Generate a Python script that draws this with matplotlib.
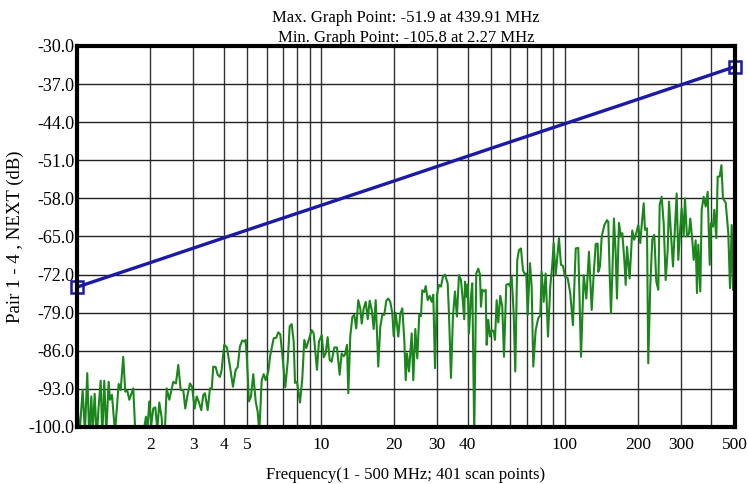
import matplotlib
matplotlib.use('Agg')
import matplotlib.pyplot as plt
from matplotlib.ticker import FixedLocator

plt.rcParams['font.family'] = ['Liberation Serif', 'DejaVu Serif']

freq = [
    1.000, 1.022, 1.055, 1.078, 1.102, 1.123, 1.145, 1.160, 1.182, 1.205,
    1.227, 1.251, 1.270, 1.294, 1.319, 1.349, 1.366, 1.392, 1.432, 1.483,
    1.511, 1.548, 1.578, 1.608, 1.639, 1.702, 1.735, 1.774, 1.813, 1.883,
    1.919, 1.943, 1.980, 2.018, 2.056, 2.096, 2.136, 2.176, 2.226, 2.268,
    2.333, 2.391, 2.483, 2.547, 2.603, 2.663, 2.729, 2.781, 2.834, 2.907,
    2.963, 3.039, 3.097, 3.156, 3.235, 3.296,
    3.350, 3.436, 3.512, 3.569, 3.624, 3.707, 3.777, 3.859, 3.922, 4.019,
    4.124, 4.242, 4.364, 4.476, 4.562, 4.661, 4.764, 4.855, 4.919, 4.981,
    5.076, 5.173, 5.286, 5.408, 5.511, 5.595, 5.724, 5.833, 5.943, 6.092,
    6.208, 6.410, 6.569, 6.695, 6.823, 6.979, 7.153, 7.317, 7.456, 7.598,
    7.744, 7.840, 7.990, 8.218, 8.398, 8.558, 8.721, 8.887, 9.178, 9.352,
    9.647, 9.831, 10.09, 10.28, 10.47, 10.67, 10.88, 11.08, 11.36, 11.65,
    11.95,
    12.18, 12.42, 12.57, 12.81, 12.97, 13.21, 13.47, 13.72, 13.98, 14.25,
    14.52, 14.72, 15.00, 15.29, 15.58, 15.87, 16.18, 16.48, 16.80, 17.21,
    17.54, 17.88, 18.22, 18.57, 18.92, 19.28, 19.65, 19.91, 20.29, 20.80,
    21.19, 21.60, 22.01, 22.30, 22.58, 23.01, 23.60, 23.96, 24.42, 24.88,
    25.35, 25.76, 26.08, 26.58, 26.94, 27.45, 27.97, 28.50, 28.94, 29.41,
    29.97, 30.54, 31.12, 31.71, 32.31, 33.15, 33.56, 34.20, 34.85, 35.51,
    36.19, 36.88, 37.58, 38.05, 38.77,
    39.03, 39.67, 40.04, 40.54, 41.31, 41.82, 42.61, 43.43, 44.26, 44.98,
    45.40, 45.96, 46.83, 47.46, 47.91, 48.64, 49.43, 50.23, 51.19, 51.82,
    52.66, 53.46, 54.48, 55.52, 56.42, 57.66, 58.76, 59.71, 60.67, 61.83,
    62.77, 63.97, 65.00, 66.24, 67.50, 68.80, 69.64, 70.57, 72.13, 73.28,
    74.40, 76.10, 78.00, 79.49, 80.54, 82.08, 83.64, 85.49, 87.36, 89.03,
    90.22, 91.94, 93.07, 94.84, 96.65, 98.49, 100.4, 102.9, 105.5, 108.2,
    111.1, 113.8, 116.8, 119.8, 122.8, 125.9, 129.2, 131.6, 134.2, 136.7,
    137.5, 139.7, 142.0, 145.6, 149.3, 151.1, 153.1, 155.0, 156.9, 159.4,
    162.0, 164.0, 167.1, 170.3, 172.5, 175.8, 178.1, 180.3, 184.9, 189.5,
    193.1, 196.8, 200.6, 204.4, 207.7, 211.1, 213.7, 217.8, 220.4, 224.6,
    228.9, 233.3, 237.8, 242.3, 245.5, 250.2, 255.0, 259.8, 264.8, 268.1,
    273.2, 278.4, 283.7, 288.3, 292.7, 298.2, 302.2, 307.9, 311.7, 317.7,
    323.7, 327.8, 334.0, 338.5, 344.9, 349.2, 353.5, 360.3, 365.0, 372.0,
    379.2, 386.4, 393.8, 398.6, 406.2, 411.2, 419.1, 424.6, 432.6, 439.91,
    446.3, 458.0, 469.4, 477.0, 484.7, 490.7, 500.0,
]
next_db = [
    -93.3, -102.0, -93.2, -101.0, -90.1, -102.0, -94.4, -101.0, -93.9, -102.0,
    -96.3, -91.5, -102.0, -91.5, -101.0, -91.7, -95.0, -94.1, -101.0, -92.1,
    -93.2, -87.1, -93.5, -93.3, -95.0, -92.9, -101.0, -100.0, -102.0, -100.3,
    -98.1, -101.0, -95.3, -99.5, -96.6, -96.4, -100.5, -95.5, -98.3, -105.8,
    -92.9, -95.0, -91.7, -92.0, -88.6, -93.2, -93.2, -96.6, -94.4, -92.0,
    -92.6, -96.6, -94.4, -95.3, -96.9, -94.1,
    -93.8, -96.9, -92.9, -93.0, -88.9, -89.0, -90.4, -90.8, -89.5, -84.9,
    -85.4, -88.9, -92.6, -89.5, -89.0, -85.2, -84.1, -84.3, -84.0, -87.7,
    -95.3, -94.4, -90.3, -95.3, -97.2, -101.0, -91.4, -90.3, -91.4, -89.8,
    -86.8, -83.7, -83.6, -82.6, -83.0, -87.4, -92.7, -88.0, -81.5, -81.1,
    -84.3, -91.9, -91.7, -95.5, -91.1, -84.0, -85.5, -84.3, -82.2, -82.8,
    -89.5, -84.3, -83.1, -87.2, -86.5, -83.5, -87.7, -88.0, -85.4, -85.4,
    -90.4,
    -86.5, -87.0, -86.7, -84.9, -93.8, -83.4, -79.8, -79.4, -81.9, -76.7,
    -78.2, -81.0, -78.2, -77.0, -80.2, -76.8, -78.5, -82.0, -76.7, -88.9,
    -81.6, -79.4, -79.4, -76.8, -76.4, -77.0, -79.1, -83.3, -79.0, -83.4,
    -79.2, -78.2, -84.0, -91.4, -86.5, -89.8, -82.8, -91.4, -82.0, -87.4,
    -79.4, -79.6, -74.9, -75.2, -74.1, -76.7, -75.9, -77.0, -75.7, -89.2,
    -75.7, -73.9, -74.2, -72.4, -72.0, -73.6, -79.1, -91.0, -79.7, -75.1,
    -79.7, -72.1, -73.0, -75.6, -80.2,
    -73.3, -76.1, -73.8, -82.8, -76.1, -73.6, -101.5, -71.8, -70.9, -72.0,
    -77.9, -74.8, -75.1, -74.8, -84.9, -80.3, -83.4, -82.2, -82.4, -84.0,
    -76.7, -80.8, -75.9, -77.9, -87.1, -73.9, -73.7, -74.1, -72.4, -79.1,
    -89.8, -69.3, -67.5, -67.2, -71.2, -72.0, -71.8, -79.4, -69.9, -74.2,
    -88.9, -82.2, -80.0, -79.5, -71.5, -77.0, -71.8, -83.4, -74.2, -70.2,
    -66.2, -72.1, -69.5, -65.3, -70.2, -70.4, -72.4, -72.6, -75.4, -81.3,
    -67.2, -67.1, -87.1, -72.1, -76.4, -67.8, -78.5, -72.0, -66.4, -66.3,
    -71.5, -70.5, -65.0, -62.9, -62.0, -62.3, -71.8, -79.1, -72.3, -61.7,
    -68.0, -76.4, -62.5, -65.0, -64.4, -69.3, -73.9, -66.9, -72.7, -63.9,
    -65.6, -64.4, -62.9, -66.2, -62.3, -58.9, -63.8, -63.5, -88.3, -74.2,
    -65.6, -64.7, -73.3, -74.8, -59.2, -57.7, -62.6, -73.0, -67.5, -58.6,
    -64.4, -70.5, -63.2, -57.1, -69.3, -63.5, -59.8, -65.0, -58.0, -65.0,
    -64.5, -61.7, -65.6, -69.3, -65.7, -75.4, -66.5, -75.1, -60.1, -57.7,
    -59.5, -56.8, -70.2, -62.6, -63.2, -60.1, -65.3, -54.0, -54.0, -51.9,
    -58.0, -58.8, -64.4, -74.5, -62.9, -74.8, -59.8,
]

# limit line (MHz, dB)
limit_freq = [1, 2, 5, 10, 20, 50, 100, 200, 500]
limit_db = [-74.3, -69.8, -63.8, -59.3, -54.8, -48.8, -44.3, -39.8, -33.8]

yticks = [-30.0, -37.0, -44.0, -51.0, -58.0, -65.0, -72.0, -79.0, -86.0, -93.0, -100.0]
xlabeled = [2, 3, 4, 5, 10, 20, 30, 40, 100, 200, 300, 500]
xgrid = [2, 3, 4, 5, 6, 7, 8, 9, 10, 20, 30, 40, 50, 60, 70, 80, 90,
         100, 200, 300, 400]

fig = plt.figure(figsize=(7.48, 4.84), dpi=100)
ax = fig.add_axes([0.1029, 0.1178, 0.8797, 0.7872])

ax.set_xscale('log')
ax.set_xlim(1, 500)
ax.set_ylim(-100, -30)

for g in xgrid:
    ax.axvline(g, color='#333333', lw=1.0, zorder=1)
for y in yticks[1:-1]:
    ax.axhline(y, color='#222222', lw=1.0, zorder=1)

ax.plot(freq, next_db, color='#1b861b', lw=1.5, zorder=3)
ax.plot(limit_freq, limit_db, color='#1a1aa6', lw=2.4, zorder=4)
ax.plot([limit_freq[0], limit_freq[-1]], [limit_db[0], limit_db[-1]],
        ls='none', marker='s', ms=9, mfc='none', mec='#1a1aa6', mew=1.8,
        zorder=5, clip_on=False)

ax.xaxis.set_major_locator(FixedLocator(xlabeled))
ax.xaxis.set_minor_locator(FixedLocator([]))
ax.set_xticklabels([str(v) for v in xlabeled])
ax.set_yticks(yticks)
ax.set_yticklabels(['%.1f' % v for v in yticks])
ax.tick_params(axis='both', length=0, colors='black')
ax.tick_params(axis='x', pad=7, labelsize=12.5)
ax.tick_params(axis='y', pad=2, labelsize=13)

for s in ax.spines.values():
    s.set_linewidth(3)
    s.set_color('black')
    s.set_zorder(6)

ax.set_xlabel('Frequency(1 - 500 MHz; 401 scan points)', fontsize=12, labelpad=10)
ax.set_ylabel('Pair 1 - 4 , NEXT (dB)', fontsize=13.5, labelpad=3)
ax.set_title('Max. Graph Point: -51.9 at 439.91 MHz\nMin. Graph Point: -105.8 at 2.27 MHz',
             fontsize=12, pad=1, linespacing=1.35)

fig.savefig('out.png', dpi=100)
